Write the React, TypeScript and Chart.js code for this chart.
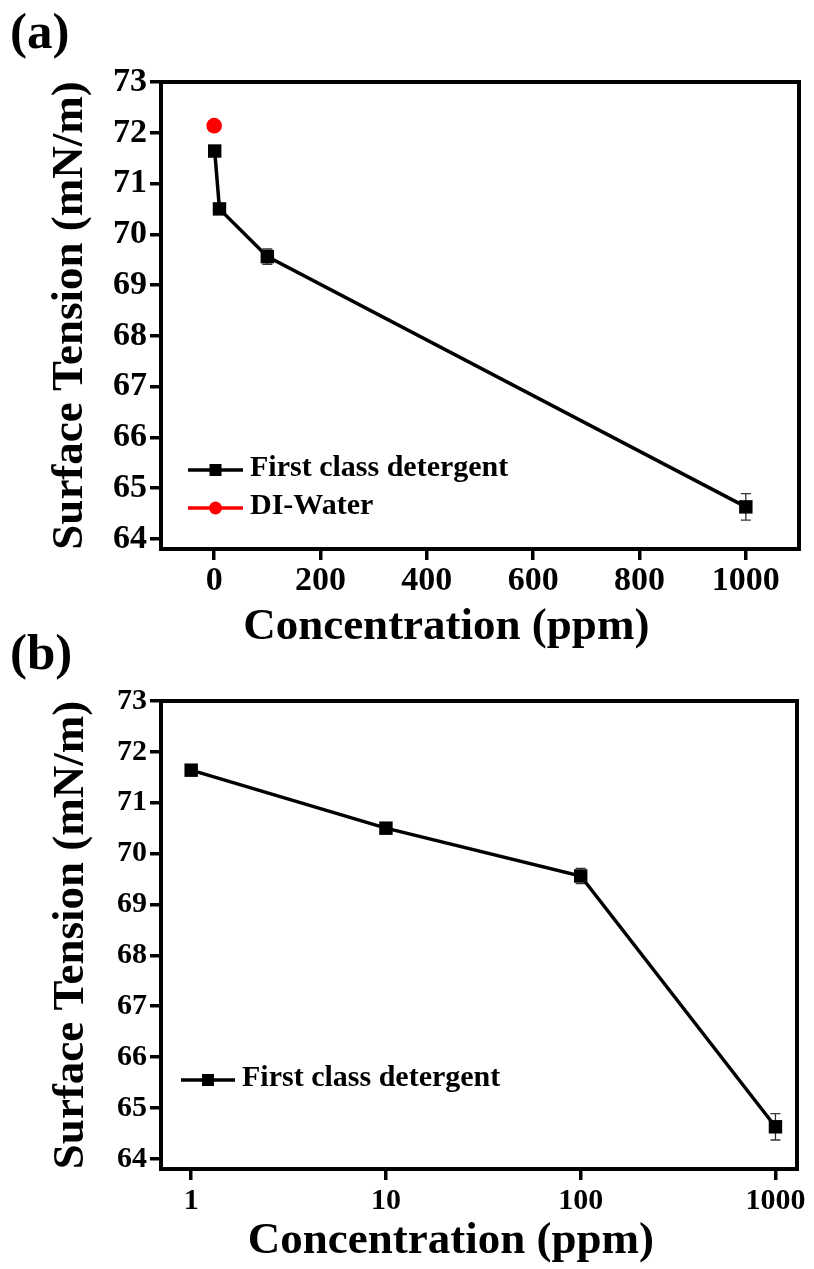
import React, { useEffect, useRef } from 'react';
import { Chart, registerables } from 'chart.js';

Chart.register(...registerables);

// ---------- data ----------
const concentrations = [1, 10, 100, 1000];
const detergentTension = [71.64, 70.5, 69.56, 64.63];
const detergentError = [0.04, 0.05, 0.15, 0.26];
const waterConcentration = [0];
const waterTension = [72.14];
const linearTicksA = [0, 200, 400, 600, 800, 1000];
const logTicksB = [1, 10, 100, 1000];
const tensionTicks = [64, 65, 66, 67, 68, 69, 70, 71, 72, 73];
const detergentLabel = 'First class detergent';
const waterLabel = 'DI-Water';
const xTitle = 'Concentration (ppm)';
const yTitle = 'Surface Tension (mN/m)';

const FONT = "'Liberation Serif', 'Times New Roman', Times, serif";
const NBSP = '\u00A0';

// ---------- plugins ----------
const framePlugin = {
  id: 'frameBox',
  afterDraw(chart: any) {
    const { ctx, chartArea: a } = chart;
    ctx.save();
    ctx.strokeStyle = '#000';
    ctx.lineWidth = 4;
    ctx.strokeRect(a.left, a.top, a.right - a.left, a.bottom - a.top);
    ctx.restore();
  },
};

const errorBarPlugin = {
  id: 'errorBars',
  beforeDatasetsDraw(chart: any, _args: any, opts: any) {
    const errs: number[] | undefined = opts && opts.errors;
    if (!errs) return;
    const ds = chart.data.datasets[opts.datasetIndex || 0];
    const xs = chart.scales.x;
    const ys = chart.scales.y;
    const ctx = chart.ctx;
    const cap = opts.cap || 5;
    ctx.save();
    ctx.strokeStyle = opts.color || '#333';
    ctx.lineWidth = opts.width || 1.2;
    ds.data.forEach((p: any, i: number) => {
      const e = errs[i];
      if (!e) return;
      const px = xs.getPixelForValue(p.x);
      const top = ys.getPixelForValue(p.y + e);
      const bot = ys.getPixelForValue(p.y - e);
      ctx.beginPath();
      ctx.moveTo(px, top);
      ctx.lineTo(px, bot);
      ctx.moveTo(px - cap, top);
      ctx.lineTo(px + cap, top);
      ctx.moveTo(px - cap, bot);
      ctx.lineTo(px + cap, bot);
      ctx.stroke();
    });
    ctx.restore();
  },
};

const seriesLegendPlugin = {
  id: 'seriesLegend',
  afterDatasetsDraw(chart: any, _args: any, opts: any) {
    if (!opts || !opts.rowsFromBottom) return;
    const { ctx, chartArea } = chart;
    ctx.save();
    chart.data.datasets.forEach((ds: any, i: number) => {
      const off = opts.rowsFromBottom[i];
      if (off === undefined) return;
      const y = chartArea.bottom - off;
      const x0 = chartArea.left + opts.left;
      const x1 = x0 + opts.lineLength;
      const xm = (x0 + x1) / 2;
      ctx.strokeStyle = ds.borderColor;
      ctx.lineWidth = 3.5;
      ctx.beginPath();
      ctx.moveTo(x0, y);
      ctx.lineTo(x1, y);
      ctx.stroke();
      ctx.fillStyle = ds.pointBackgroundColor;
      ctx.beginPath();
      if (ds.pointStyle === 'circle') {
        ctx.arc(xm, y, opts.circleRadius, 0, Math.PI * 2);
      } else {
        const s = opts.squareSide;
        ctx.rect(xm - s / 2, y - s / 2, s, s);
      }
      ctx.fill();
      ctx.fillStyle = '#000';
      ctx.font = `bold ${opts.fontSize}px ${FONT}`;
      ctx.textBaseline = 'middle';
      ctx.textAlign = 'left';
      ctx.fillText(ds.label, x1 + opts.textGap, y - 2);
    });
    ctx.restore();
  },
};

// ---------- config helpers ----------
function detergentDataset() {
  return {
    label: detergentLabel,
    data: concentrations.map((c, i) => ({ x: c, y: detergentTension[i] })),
    borderColor: '#000',
    backgroundColor: '#000',
    borderWidth: 3.5,
    pointStyle: 'rect',
    pointRadius: 9.5,
    pointBackgroundColor: '#000',
    pointBorderWidth: 0,
    tension: 0,
  };
}

function waterDataset() {
  return {
    label: waterLabel,
    data: waterConcentration.map((c, i) => ({ x: c, y: waterTension[i] })),
    borderColor: '#ff0000',
    backgroundColor: '#ff0000',
    showLine: false,
    pointStyle: 'circle',
    pointRadius: 7.8,
    pointBackgroundColor: '#ff0000',
    pointBorderWidth: 0,
  };
}

function gridOpts() {
  return {
    display: true,
    drawOnChartArea: false,
    drawTicks: true,
    tickLength: 11,
    tickWidth: 3.5,
    tickColor: '#000',
    color: '#000',
    lineWidth: 3.5,
  };
}

function yScale(tickSize: number, titlePadTop: number, width: number) {
  return {
    type: 'linear',
    position: 'left',
    min: 63.8,
    max: 73,
    afterBuildTicks: (scale: any) => {
      scale.ticks = tensionTicks.map((v) => ({ value: v }));
    },
    afterFit: (scale: any) => {
      scale.width = width;
    },
    grid: gridOpts(),
    border: { display: false },
    ticks: {
      color: '#000',
      font: { family: FONT, size: tickSize, weight: 'bold' },
      padding: 3,
      autoSkip: false,
      callback: (v: any) => String(v),
    },
    title: {
      display: true,
      text: yTitle,
      color: '#000',
      font: { family: FONT, size: 45, weight: 'bold', lineHeight: 1 },
      padding: { top: titlePadTop, bottom: 0 },
    },
  };
}

function baseOptions(padTop: number, padRight: number) {
  return {
    responsive: false,
    animation: false,
    events: [],
    layout: { padding: { left: 0, top: padTop, right: padRight, bottom: 0 } },
  };
}

function configA() {
  return {
    type: 'line',
    data: { datasets: [detergentDataset(), waterDataset()] },
    plugins: [framePlugin, errorBarPlugin, seriesLegendPlugin],
    options: {
      ...baseOptions(82, 15),
      plugins: {
        legend: { display: false },
        tooltip: { enabled: false },
        errorBars: { errors: detergentError, datasetIndex: 0, color: '#333', width: 1.3, cap: 5 },
        seriesLegend: {
          rowsFromBottom: [79, 41],
          left: 27,
          lineLength: 55,
          textGap: 7,
          squareSide: 12,
          circleRadius: 6.5,
          fontSize: 30,
        },
      },
      scales: {
        x: {
          type: 'linear',
          position: 'bottom',
          min: -100,
          max: 1100,
          afterBuildTicks: (scale: any) => {
            scale.ticks = linearTicksA.map((v) => ({ value: v }));
          },
          afterFit: (scale: any) => {
            scale.height = 116;
          },
          grid: gridOpts(),
          border: { display: false },
          ticks: {
            color: '#000',
            font: { family: FONT, size: 34, weight: 'bold' },
            padding: 1,
            autoSkip: false,
            maxRotation: 0,
            callback: (v: any) => String(v),
          },
          title: {
            display: true,
            text: xTitle + NBSP.repeat(6),
            color: '#000',
            font: { family: FONT, size: 45, weight: 'bold', lineHeight: 1 },
            padding: { top: 0, bottom: 15.5 },
          },
        },
        y: yScale(34, 48, 161),
      },
    },
  };
}

function configB() {
  return {
    type: 'line',
    data: { datasets: [detergentDataset()] },
    plugins: [framePlugin, errorBarPlugin, seriesLegendPlugin],
    options: {
      ...baseOptions(36, 17),
      plugins: {
        legend: { display: false },
        tooltip: { enabled: false },
        errorBars: { errors: detergentError, datasetIndex: 0, color: '#333', width: 1.3, cap: 5 },
        seriesLegend: {
          rowsFromBottom: [89],
          left: 20,
          lineLength: 54,
          textGap: 7,
          squareSide: 12,
          circleRadius: 6.5,
          fontSize: 30,
        },
      },
      scales: {
        x: {
          type: 'logarithmic',
          position: 'bottom',
          min: 0.708,
          max: 1290,
          afterBuildTicks: (scale: any) => {
            scale.ticks = logTicksB.map((v) => ({ value: v }));
          },
          afterFit: (scale: any) => {
            scale.height = 100;
          },
          grid: gridOpts(),
          border: { display: false },
          ticks: {
            color: '#000',
            font: { family: FONT, size: 30, weight: 'bold' },
            padding: 3,
            autoSkip: false,
            maxRotation: 0,
            callback: (v: any) => String(v),
          },
          title: {
            display: true,
            text: xTitle + NBSP.repeat(5),
            color: '#000',
            font: { family: FONT, size: 45, weight: 'bold', lineHeight: 1 },
            padding: { top: 0, bottom: 5 },
          },
        },
        y: yScale(30, 48.5, 161),
      },
    },
  };
}

// ---------- components ----------
function ChartCanvas({ top, height, build }: { top: number; height: number; build: () => any }) {
  const ref = useRef<HTMLCanvasElement | null>(null);
  useEffect(() => {
    if (!ref.current) return;
    const chart = new Chart(ref.current, build());
    return () => chart.destroy();
  }, [build]);
  return (
    <canvas
      ref={ref}
      width={814}
      height={height}
      style={{ position: 'absolute', left: 0, top, width: 814, height, display: 'block' }}
    />
  );
}

const panelLabelStyle: React.CSSProperties = {
  position: 'absolute',
  left: 10,
  fontFamily: FONT,
  fontWeight: 'bold',
  fontSize: 51,
  lineHeight: 1,
  color: '#000',
  margin: 0,
  zIndex: 2,
};

export default function App() {
  return (
    <div
      style={{
        position: 'absolute',
        left: 0,
        top: 0,
        width: 814,
        height: 1269,
        background: '#fff',
        overflow: 'hidden',
      }}
    >
      <ChartCanvas top={0} height={665} build={configA} />
      <ChartCanvas top={665} height={604} build={configB} />
      <div style={{ ...panelLabelStyle, top: 6 }}>(a)</div>
      <div style={{ ...panelLabelStyle, top: 627 }}>(b)</div>
    </div>
  );
}
